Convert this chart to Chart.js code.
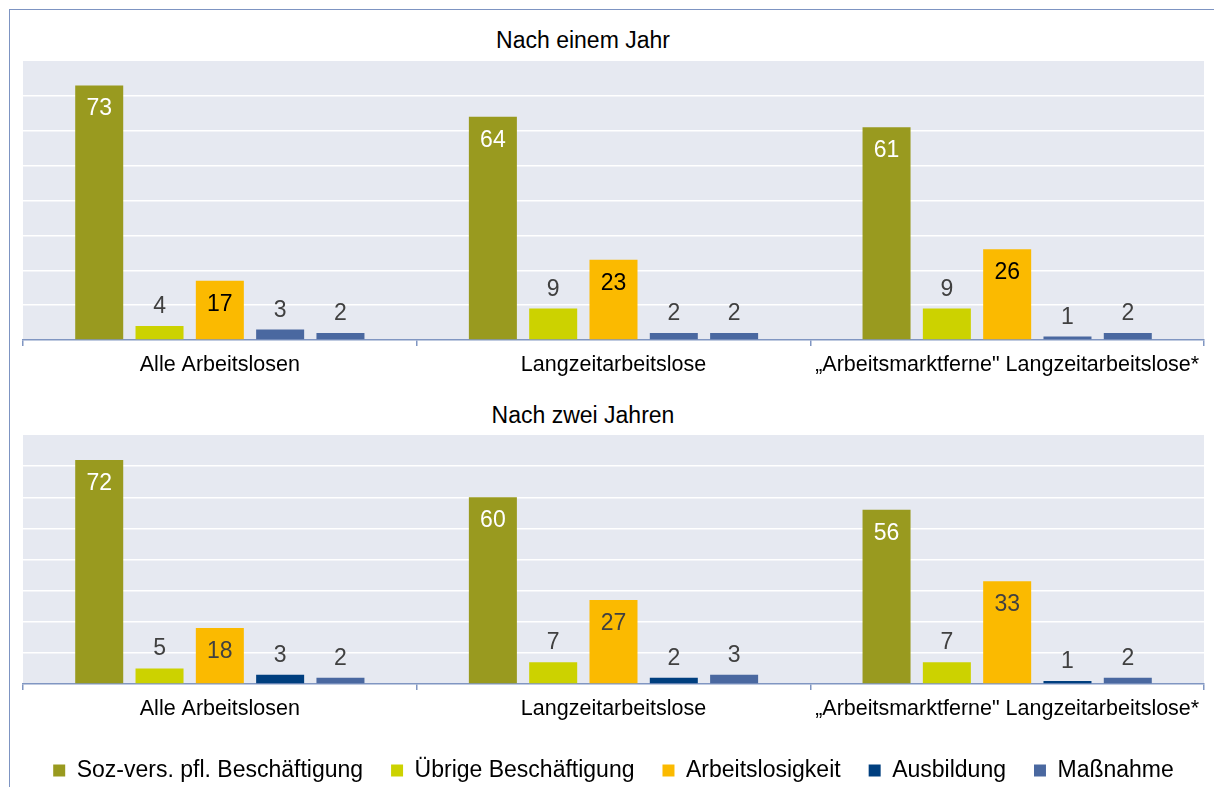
<!DOCTYPE html>
<html>
<head>
<meta charset="utf-8">
<script src="https://cdn.jsdelivr.net/npm/chart.js@4"></script>
<style>
  html, body { margin: 0; padding: 0; background: #ffffff; overflow: hidden; }
  #wrap { position: relative; width: 1214px; height: 787px; overflow: hidden; font-family: "Liberation Sans", Arial, sans-serif; }
  #frame { position: absolute; left: 9px; top: 9px; width: 1300px; height: 900px; border-left: 1.5px solid #7d94c2; border-top: 1.5px solid #7d94c2; }
  .ttl { position: absolute; left: 0; width: 1166px; text-align: center; font-size: 23px; line-height: 24px; color: #000; }
  canvas { position: absolute; left: 0; }
</style>
</head>
<body>
<div id="wrap">
  <div id="frame"></div>
  <div class="ttl" id="t1" style="top:27.5px"></div>
  <canvas id="c1" width="1214" height="400" style="top:0px"></canvas>
  <div class="ttl" id="t2" style="top:403px"></div>
  <canvas id="c2" width="1214" height="392" style="top:400px"></canvas>
</div>
<script>
// ---- data ----
const panelTitles = ["Nach einem Jahr", "Nach zwei Jahren"];
const categories = ["Alle Arbeitslosen", "Langzeitarbeitslose", "\u201EArbeitsmarktferne\" Langzeitarbeitslose*"];
const seriesNames = ["Soz-vers. pfl. Besch\u00e4ftigung", "\u00dcbrige Besch\u00e4ftigung", "Arbeitslosigkeit", "Ausbildung", "Ma\u00dfnahme"];

// Nach einem Jahr
const year1Soz = [73, 64, 61];
const year1Uebrige = [4, 9, 9];
const year1Arbeitslos = [17, 23, 26];
const year1Ausbildung = [3, 2, 1];
const year1Massnahme = [2, 2, 2];

// Nach zwei Jahren
const year2Soz = [72, 60, 56];
const year2Uebrige = [5, 7, 7];
const year2Arbeitslos = [18, 27, 33];
const year2Ausbildung = [3, 2, 1];
const year2Massnahme = [2, 3, 2];

const yTicks = [0, 10, 20, 30, 40, 50, 60, 70, 80];

// ---- styles ----
const FONT = "'Liberation Sans', Arial, sans-serif";
const colorsY2 = ["#999a1f", "#ccd200", "#fbba00", "#003f7f", "#4a68a0"];
const colorsY1 = ["#999a1f", "#ccd200", "#fbba00", "#4a68a0", "#4a68a0"];
const AXIS = "#8096c2";

document.getElementById('t1').textContent = panelTitles[0];
document.getElementById('t2').textContent = panelTitles[1];

const plotBg = {
  id: 'plotBg',
  beforeDraw(chart) {
    const a = chart.chartArea, ctx = chart.ctx;
    ctx.save();
    ctx.fillStyle = '#e6e9f1';
    ctx.fillRect(a.left, a.top, a.right - a.left, a.bottom - a.top);
    ctx.restore();
  }
};

const barValues = {
  id: 'barValues',
  afterDatasetsDraw(chart, args, opts) {
    const ctx = chart.ctx;
    ctx.save();
    ctx.font = '23px ' + FONT;
    ctx.textAlign = 'center';
    ctx.textBaseline = 'alphabetic';
    chart.data.datasets.forEach((ds, di) => {
      const meta = chart.getDatasetMeta(di);
      meta.data.forEach((el, i) => {
        const v = ds.data[i];
        if (v >= 15) {
          ctx.fillStyle = opts.inside[di] || '#404040';
          ctx.fillText(String(v), el.x, el.y + 30);
        } else {
          ctx.fillStyle = '#404040';
          ctx.fillText(String(v), el.x, el.y - 13);
        }
      });
    });
    ctx.restore();
  }
};

function makeDatasets(arrs, colors) {
  return arrs.map((d, i) => ({
    label: seriesNames[i],
    data: d,
    backgroundColor: colors[i],
    borderWidth: 0,
    categoryPercentage: 0.766,
    barPercentage: 0.796
  }));
}

function makeOptions(cfg) {
  return {
    responsive: false,
    devicePixelRatio: 1,
    animation: false,
    layout: { padding: { top: cfg.padTop, left: 23, right: 10, bottom: 0 } },
    plugins: {
      title: { display: false },
      tooltip: { enabled: false },
      legend: cfg.legend,
      barValues: { inside: cfg.inside }
    },
    scales: {
      x: {
        grid: { display: true, drawOnChartArea: false, drawTicks: true, tickLength: 6, color: AXIS, lineWidth: 1.5, offset: true },
        border: { display: true, color: AXIS, width: 1.5 },
        ticks: { font: { family: FONT, size: 21.5 }, color: '#000', padding: 6, maxRotation: 0, minRotation: 0, autoSkip: false },
        afterFit(scale) { scale.height = cfg.xHeight; }
      },
      y: {
        min: 0, max: 80,
        afterBuildTicks(scale) { scale.ticks = yTicks.map(v => ({ value: v })); },
        ticks: { display: false },
        grid: { drawTicks: false, lineWidth: 1.5, color: (c) => (c.tick && (c.tick.value === 0 || c.tick.value === 80)) ? 'rgba(0,0,0,0)' : '#ffffff' },
        border: { display: false },
        afterFit(scale) { scale.width = 0; }
      }
    }
  };
}

new Chart(document.getElementById('c1'), {
  type: 'bar',
  data: { labels: categories, datasets: makeDatasets([year1Soz, year1Uebrige, year1Arbeitslos, year1Ausbildung, year1Massnahme], colorsY1) },
  options: makeOptions({ padTop: 61, xHeight: 60, legend: { display: false }, inside: ['#ffffff', '#404040', '#000000', '#404040', '#404040'] }),
  plugins: [plotBg, barValues]
});

new Chart(document.getElementById('c2'), {
  type: 'bar',
  data: { labels: categories, datasets: makeDatasets([year2Soz, year2Uebrige, year2Arbeitslos, year2Ausbildung, year2Massnahme], colorsY2) },
  options: makeOptions({
    padTop: 35, xHeight: 47,
    legend: { display: true, position: 'bottom', labels: { font: { family: FONT, size: 23 }, color: '#000', boxWidth: 12, boxHeight: 12, padding: 28 } },
    inside: ['#ffffff', '#404040', '#404040', '#404040', '#404040']
  }),
  plugins: [plotBg, barValues]
});
</script>
</body>
</html>
